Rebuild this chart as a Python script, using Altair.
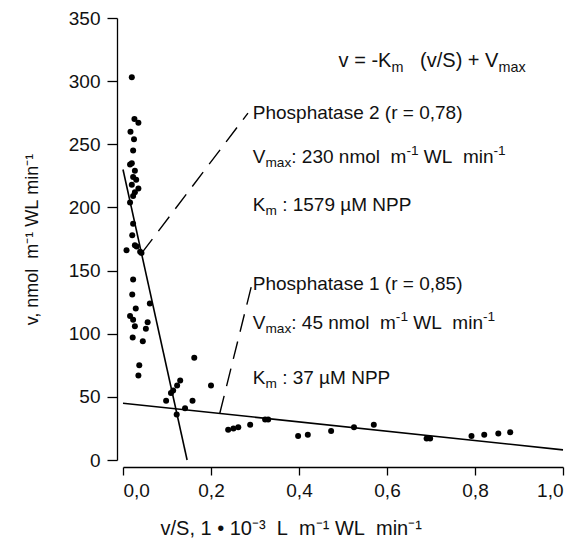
import altair as alt
import pandas as pd

# scatter points (v/S, v)
pt_x = [0.020, 0.026, 0.035, 0.017, 0.025, 0.023, 0.016, 0.020, 0.027, 0.023, 0.030, 0.020,
        0.035, 0.027, 0.023, 0.016, 0.023, 0.021, 0.027, 0.031, 0.008, 0.039, 0.042, 0.023,
        0.021, 0.029, 0.061, 0.016, 0.023, 0.027, 0.056, 0.052, 0.022, 0.045, 0.037, 0.035,
        0.162, 0.130, 0.123, 0.114, 0.109, 0.200, 0.098, 0.158, 0.141, 0.122,
        0.239, 0.251, 0.262, 0.289, 0.323, 0.330, 0.398, 0.420, 0.473, 0.525, 0.570,
        0.690, 0.698, 0.792, 0.821, 0.853, 0.880]
pt_y = [303, 270, 267, 260, 254, 245, 234, 235, 229, 224, 222, 218,
        215, 212, 209, 204, 187, 178, 170, 169, 166, 165, 164, 143,
        131, 120, 124, 114, 111, 106, 109, 104, 97, 94, 75, 67,
        81, 63, 59, 55, 53, 59, 47, 47, 41, 36,
        24, 25, 26, 28, 32, 32, 19, 20, 23, 26, 28,
        17, 17, 19, 20, 21, 22]

# regression lines (Eadie-Hofstee): v = -Km (v/S) + Vmax
fit_group = ["P1", "P1", "P2", "P2"]
fit_x = [0.0, 1.0, 0.0, 0.1457]
fit_y = [45, 8, 230, 0]

# dashed leader lines
lead_group = ["L1", "L1", "L2", "L2"]
lead_x = [0.220, 0.2925, 0.042, 0.284]
lead_y = [37, 138.6, 163.6, 274.7]

# annotations: each line is a list of (text, kind) with kind n / sub / sup
ann_lines = [
    [("v = -K", "n"), ("m", "sub"), ("   (v/S) + V", "n"), ("max", "sub")],
    [("Phosphatase 2 (r = 0,78)", "n")],
    [("V", "n"), ("max", "sub"), (": 230 nmol  m", "n"), ("-1", "sup"), (" WL  min", "n"), ("-1", "sup")],
    [("K", "n"), ("m", "sub"), (" : 1579 µM NPP", "n")],
    [("Phosphatase 1 (r = 0,85)", "n")],
    [("V", "n"), ("max", "sub"), (": 45 nmol  m", "n"), ("-1", "sup"), (" WL  min", "n"), ("-1", "sup")],
    [("K", "n"), ("m", "sub"), (" : 37 µM NPP", "n")],
]
ann_x = [0.490, 0.295, 0.295, 0.295, 0.295, 0.295, 0.295]
ann_y = [311, 270, 235.5, 197, 134.6, 104, 60.2]   # baselines
ann_size = [20, 19, 19, 19, 19, 19, 19]

x_ticks = [0.0, 0.2, 0.4, 0.6, 0.8, 1.0]
y_ticks = [0, 50, 100, 150, 200, 250, 300, 350]

FONT = "Liberation Sans"
W, H = 440, 442
X_MAX, Y_MAX = 1.0, 350
NB = "\u00a0"

# Arial / Liberation Sans advance widths (em)
CW = {' ': .278, '(': .333, ')': .333, '+': .584, ',': .278, '-': .333, '.': .278, '/': .278,
      ':': .278, '=': .584, 'K': .667, 'L': .556, 'M': .833, 'N': .722, 'P': .667, 'S': .667,
      'V': .667, 'W': .944, 'a': .556, 'e': .556, 'h': .556, 'i': .222, 'l': .222, 'm': .833,
      'n': .556, 'o': .556, 'p': .556, 'r': .333, 's': .5, 't': .278, 'v': .5, 'x': .5, 'µ': .556}
for d in "0123456789":
    CW[d] = .556

rows = []
for segs, x0, y0, s in zip(ann_lines, ann_x, ann_y, ann_size):
    cum = 0.0
    for txt, kind in segs:
        fs = s if kind == "n" else s * 0.72
        dy = 0.0
        if kind == "sub":
            dy = 0.22 * s
        elif kind == "sup":
            dy = -0.42 * s
        body = txt.lstrip(" ")
        cum += (len(txt) - len(body)) * CW[" "] * fs
        rows.append({"x": x0 + cum / W * X_MAX, "y": y0 - dy / H * Y_MAX,
                     "t": body.replace(" ", NB), "fs": fs})
        cum += sum(CW.get(c, .556) for c in body) * fs

pts = pd.DataFrame({"x": pt_x, "y": pt_y})
fits = pd.DataFrame({"g": fit_group, "x": fit_x, "y": fit_y})
leads = pd.DataFrame({"g": lead_group, "x": lead_x, "y": lead_y})
anns = pd.DataFrame(rows)

xscale = alt.Scale(domain=[0, X_MAX], nice=False, zero=False)
yscale = alt.Scale(domain=[0, Y_MAX], nice=False)

xaxis = alt.Axis(values=x_ticks, labelExpr="replace(format(datum.value, '.1f'), '.', ',')",
                 title=("v/S, 1 • 10⁻³  L  m⁻¹ WL  min⁻¹").replace(" ", NB), offset=7, grid=False,
                 tickSize=8, labelPadding=6, titlePadding=18, titleX=37, titleAlign="left",
                 titleAnchor="start", titleFontSize=20)
yaxis = alt.Axis(values=y_ticks, title=("v, nmol  m⁻¹ WL min⁻¹").replace(" ", NB), offset=6,
                 grid=False, tickSize=10, labelPadding=7, titlePadding=27)

points = alt.Chart(pts).mark_circle(color="black", size=36, opacity=1).encode(
    x=alt.X("x:Q", scale=xscale, axis=xaxis), y=alt.Y("y:Q", scale=yscale, axis=yaxis))

fit_lines = alt.Chart(fits).mark_line(color="black", strokeWidth=1.6).encode(
    x=alt.X("x:Q", scale=xscale), y=alt.Y("y:Q", scale=yscale), detail="g:N")

lead_lines = alt.Chart(leads).mark_line(color="black", strokeWidth=1.4, strokeDash=[18, 10]).encode(
    x=alt.X("x:Q", scale=xscale), y=alt.Y("y:Q", scale=yscale), detail="g:N")

texts = alt.Chart(anns).mark_text(align="left", baseline="alphabetic", font=FONT).encode(
    x=alt.X("x:Q", scale=xscale), y=alt.Y("y:Q", scale=yscale), text="t:N",
    size=alt.Size("fs:Q", scale=None), color=alt.value("#111111"))

chart = alt.layer(points, fit_lines, lead_lines, texts).properties(
    width=W, height=H,
    padding={"left": 115, "top": 10, "right": 15, "bottom": 80},
    autosize=alt.AutoSizeParams(type="none"),
).configure_view(stroke=None).configure_axis(
    domainColor="black", tickColor="black", labelColor="#111", titleColor="#111",
    labelFont=FONT, titleFont=FONT, labelFontSize=19, titleFontSize=18,
    titleFontWeight="normal", domainWidth=1.3, tickWidth=1.3
)

chart.save("out.html", embed_options={"renderer": "svg", "actions": False})
